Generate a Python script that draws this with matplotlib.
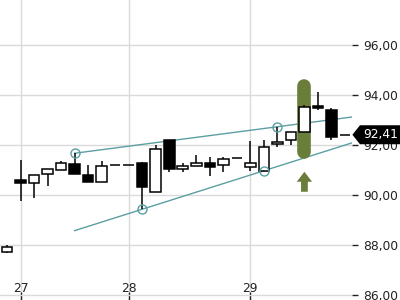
import matplotlib
matplotlib.use("Agg")
import matplotlib.pyplot as plt
from matplotlib.patches import Rectangle, FancyArrow, Polygon
import matplotlib.transforms as mtransforms

# --- candle data (hourly bars) ---
opens  = [87.72, 90.60, 90.47, 90.83, 91.00, 91.24, 90.80, 90.53, 91.20, 91.20,
          91.27, 90.12, 92.20, 91.03, 91.15, 91.28, 91.19, 91.47, 91.11, 90.97,
          92.04, 92.20, 92.51, 93.55, 93.40, 92.41]
highs  = [88.00, 91.40, 90.79, 91.03, 91.36, 91.67, 91.20, 91.36, 91.20, 91.20,
          91.31, 92.00, 92.20, 91.27, 91.60, 91.51, 91.51, 91.47, 92.16, 92.20,
          92.73, 92.51, 93.60, 94.11, 93.49, 92.41]
lows   = [87.68, 89.77, 89.89, 90.37, 91.00, 90.83, 90.53, 90.53, 91.20, 91.20,
          89.43, 90.12, 90.93, 90.93, 91.15, 90.77, 90.93, 91.47, 90.97, 90.97,
          91.91, 92.00, 92.51, 93.40, 92.20, 92.41]
closes = [87.92, 90.48, 90.79, 91.03, 91.27, 90.83, 90.53, 91.16, 91.20, 91.20,
          90.31, 91.83, 91.03, 91.15, 91.28, 91.11, 91.43, 91.47, 91.27, 91.91,
          92.13, 92.51, 93.51, 93.50, 92.33, 92.41]

day_pos = [1, 9, 18]
day_labels = ["27", "28", "29"]
y_ticks = [86, 88, 90, 92, 94, 96]

# trend lines: pivot candles (index, price)
upper_pivots = [(5, 91.67), (20, 92.73)]
lower_pivots = [(10, 89.43), (19, 90.97)]
line_start = 5

signal_idx = 22          # highlighted candle
signal_top = 94.37
signal_bottom = 91.74
arrow_tip = 90.93
arrow_base = 90.13
last_price = 92.41

teal = "#5b9fa3"
olive = "#6b7d3b"
grid_c = "#dadada"

fig = plt.figure(figsize=(4, 3), dpi=100)
ax = fig.add_axes([0, 0, 0.88, 1])
ax.set_xlim(-0.52, 25.52)
ax.set_ylim(85.8, 97.8)

for s in ax.spines.values():
    s.set_visible(False)

ax.set_yticks(y_ticks)
ax.set_yticklabels([f"{v:.2f}".replace(".", ",") for v in y_ticks])
ax.yaxis.tick_right()
ax.tick_params(axis="y", direction="out", length=4, width=1, pad=4,
               labelsize=8.8, colors="#222222")
ax.set_xticks(day_pos)
ax.set_xticklabels(day_labels)
ax.tick_params(axis="x", direction="in", length=6, width=1, pad=-13,
               labelsize=8.8, colors="#222222")
ax.grid(True, color=grid_c, lw=1)
ax.set_axisbelow(True)

# trend lines
x_end = ax.get_xlim()[1] - 0.02
for piv in (upper_pivots, lower_pivots):
    (x1, y1), (x2, y2) = piv
    k = (y2 - y1) / (x2 - x1)
    ax.plot([line_start, x_end], [y1 + k * (line_start - x1), y1 + k * (x_end - x1)],
            color=teal, lw=1, zorder=2)
    ax.plot([x1, x2], [y1, y2], "o", ms=6.5, mfc="none", mec=teal, mew=1, zorder=5)

# highlight bar + arrow
ax.plot([signal_idx, signal_idx], [signal_bottom, signal_top], color=olive,
        lw=9.8, solid_capstyle="round", zorder=3)
ax.add_patch(FancyArrow(signal_idx, arrow_base, 0, arrow_tip - arrow_base,
                        width=0.5, head_width=1.13, head_length=0.4,
                        length_includes_head=True, color=olive, lw=0, zorder=3))

# candles
w = 0.78
for i in range(len(opens)):
    o, h, l, c = opens[i], highs[i], lows[i], closes[i]
    ax.plot([i, i], [l, h], color="black", lw=1.1, zorder=4, solid_capstyle="butt")
    fc = "white" if c >= o else "black"
    ax.add_patch(Rectangle((i - w / 2, min(o, c)), w, abs(c - o),
                           facecolor=fc, edgecolor="black", lw=1.1, zorder=4))

# last price tag
trans = mtransforms.blended_transform_factory(fig.transFigure, ax.transData)
hh = 0.38
tag = Polygon([(0.881, last_price), (0.9, last_price + hh), (1.0, last_price + hh),
               (1.0, last_price - hh), (0.9, last_price - hh)],
              closed=True, transform=trans, fc="black", ec="none",
              clip_on=False, zorder=6)
fig.add_artist(tag)
fig.text(0.907, last_price, f"{last_price:.2f}".replace(".", ","), transform=trans,
         ha="left", va="center", fontsize=8.8, color="white", zorder=7)

fig.savefig("out.png", dpi=100)
